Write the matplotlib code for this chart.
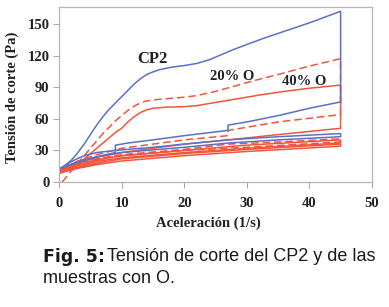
import numpy as np
import matplotlib
matplotlib.use('Agg')
import matplotlib.pyplot as plt

BLUE = '#5b70c8'
RED = '#f2553c'

# --- data (shear rate 1/s, shear stress Pa) ---
# CP2: up curve, hold at 45, down curve (with the instrument steps)
cp2_x = [0, 1, 2, 3, 4, 5, 6, 7, 8, 9, 10, 11, 12, 13, 14, 15, 16, 18, 20, 22,
         24, 26, 28, 30, 33, 36, 40, 45,
         45, 40, 35, 30, 27, 27, 20, 15, 11, 9, 9, 6, 3, 1, 0]
cp2_y = [12, 16, 21, 28, 36, 45, 54, 62, 69, 75, 81, 87, 93, 98, 102, 104.5, 106.5, 109, 110.5, 112.5,
         116, 121, 126, 130.5, 137, 143, 151, 162,
         76, 70, 63, 57, 54, 49, 44, 40, 37, 35, 28, 24, 19, 15, 13]

# second blue loop (low)
cp2b_x = [0, 1, 2, 3, 4, 6, 9, 15, 20, 27, 35, 45, 45, 35, 27, 20, 10, 6, 3, 1, 0]
cp2b_y = [12, 16, 19.5, 22.5, 25, 28, 30, 33, 36, 40, 43, 46, 43, 40, 37, 33, 28, 24, 19, 15, 12]

# 20% O (dashed)
o20_x = [0.5, 2, 3, 4, 5, 6, 7, 8, 9, 10, 11, 12, 13, 14, 16, 18, 20, 22, 25, 28, 31, 35, 40, 45,
         45, 35, 27, 27, 20, 10, 6, 3, 1, 0]
o20_y = [0, 11, 18, 25, 32, 39, 46, 52, 58, 63, 68, 72, 75, 77, 78.5, 79.5, 80.5, 82, 86, 91, 96, 102, 110, 117,
         64, 57, 49, 44, 40, 32, 26, 20, 14, 10]

# 40% O (solid)
o40_x = [0, 2, 3, 4, 5, 6, 7, 8, 9, 10, 11, 12, 13, 14, 15, 17, 20, 22, 25, 28, 32, 36, 40, 45,
         45, 35, 27, 20, 10, 6, 3, 1, 0]
o40_y = [9, 14, 18, 22, 27, 32, 37, 42, 47, 51, 57, 62, 66, 68.5, 70, 71, 71.5, 72.5, 75.5, 78.5, 82.5, 86, 89, 92,
         51, 45, 40, 36, 28, 23.5, 18, 13, 10]

# lower red loops
r3_x = [0, 1, 2, 3, 4, 6, 10, 20, 30, 45, 45, 30, 20, 10, 6, 3, 1, 0]
r3_y = [10, 13, 15.5, 17, 18.5, 21, 25, 30, 35, 40, 37, 32, 28, 23, 19.5, 15.5, 11.5, 9]
r4_x = [0, 1, 2, 3, 4, 6, 10, 20, 27, 35, 45, 45, 30, 20, 10, 6, 3, 1, 0]
r4_y = [11, 14, 16.5, 18, 19.5, 22, 26, 31, 36, 38, 41, 38, 33, 30, 25, 21.5, 17, 12.5, 10]
r5_x = [0, 1, 2, 3, 4, 6, 10, 20, 30, 45, 45, 30, 20, 10, 6, 3, 1, 0]
r5_y = [9, 11, 12.5, 14, 15.5, 18, 22, 27, 31, 36, 34, 29, 25, 20, 16.5, 13, 10, 8]

xticks = [0, 10, 20, 30, 40, 50]
yticks = [0, 30, 60, 90, 120, 150]

plt.rcParams['font.family'] = 'Liberation Serif'

fig = plt.figure(figsize=(3.89, 3.07), dpi=100)
ax = fig.add_axes([0.152, 0.407, 0.804, 0.570])

lw = 1.1
ax.plot(r5_x, r5_y, color=RED, lw=lw)
ax.plot(r3_x, r3_y, color=RED, lw=lw)
ax.plot(r4_x, r4_y, color=RED, lw=lw, ls=(0, (5, 2.5)))
ax.plot(o40_x, o40_y, color=RED, lw=lw)
ax.plot(o20_x, o20_y, color=RED, lw=lw, ls=(0, (5, 2.5)))
ax.plot(cp2b_x, cp2b_y, color=BLUE, lw=lw)
ax.plot(cp2_x, cp2_y, color=BLUE, lw=lw)

ax.text(14.9, 117, 'CP2', fontsize=12, fontweight='bold', ha='center', va='center', color='#222')
ax.text(27.7, 100, '20% O', fontsize=10.5, fontweight='bold', ha='center', va='center', color='#222')
ax.text(39.1, 95, '40% O', fontsize=10.5, fontweight='bold', ha='center', va='center', color='#222')

ax.set_xlim(0, 50)
ax.set_ylim(0, 166)
ax.set_xticks(xticks)
ax.set_yticks(yticks)
ax.tick_params(direction='out', length=4, width=0.8, color='#aaaaaa',
               labelsize=10.5, labelcolor='#222')
ax.tick_params(axis='x', pad=7)
ax.tick_params(axis='y', pad=3)
for lab in ax.get_xticklabels() + ax.get_yticklabels():
    lab.set_fontweight('bold')
for s in ax.spines.values():
    s.set_color('#b5b5b5')
    s.set_linewidth(0.9)

ax.set_xlabel('Aceleración (1/s)', fontsize=10.5, fontweight='bold', color='#222')
ax.set_ylabel('Tensión de corte (Pa)', fontsize=10.5, fontweight='bold', color='#222')
ax.xaxis.set_label_coords(0.476, -0.195)
ax.yaxis.set_label_coords(-0.128, 0.486)

fig.text(0.111, 0.163, 'Fig. 5:', family='DejaVu Sans', fontweight='bold',
         fontsize=12.5, color='#1a1a1a', va='center')
fig.text(0.275, 0.163, 'Tensión de corte del CP2 y de las', family='Liberation Sans',
         fontsize=13, color='#1a1a1a', va='center')
fig.text(0.111, 0.094, 'muestras con O.', family='Liberation Sans',
         fontsize=13, color='#1a1a1a', va='center')

fig.savefig('out.png', dpi=100)
